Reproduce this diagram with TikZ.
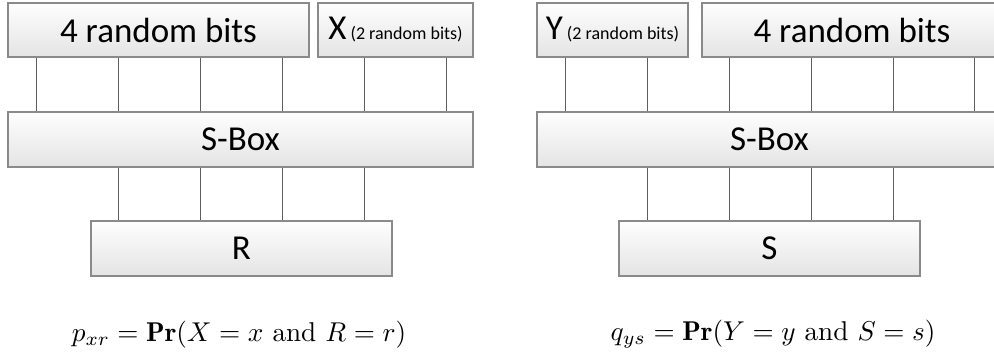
\documentclass[tikz,border=0pt]{standalone}
\usepackage{amsmath}
\usepackage{fontspec}
\newfontfamily\calibri{Carlito}
\definecolor{boxedge}{HTML}{8A8A8A}
\definecolor{boxtop}{HTML}{FEFEFE}
\definecolor{boxbot}{HTML}{E4E4E4}
\definecolor{wirecol}{HTML}{5E5E5E}
\tikzset{
  blk/.style={draw=boxedge, line width=1.3pt, top color=boxtop, bottom color=boxbot,
    inner sep=0pt, minimum height=54pt,
    font=\calibri\fontsize{35}{40}\selectfont},
  wire/.style={draw=wirecol, line width=1pt},
  formula/.style={scale=2.72, transform shape, inner sep=0pt}
}
\newcommand\twobits{{\fontsize{18}{20}\selectfont\ (2 random bits)}}
\begin{document}
\begin{tikzpicture}[x=1pt, y=-1pt]
  \useasboundingbox (0,0) rectangle (994,359);
  \clip (0,0) rectangle (994,359);

  % left cipher stage
  \node[blk, minimum width=301pt] (rbL) at (158.5,30) {4 random bits};
  \node[blk, minimum width=155pt] (xL)  at (395.5,30) {X\twobits};
  \node[blk, minimum width=465pt, minimum height=55pt] (sbL) at (240.5,139.5) {S-Box};
  \node[blk, minimum width=301pt, minimum height=55pt] (rL)  at (241.5,248.5) {R};

  \foreach \wx in {36,118,200,282}
    \draw[wire] (rbL.south -| \wx,0) -- (sbL.north -| \wx,0);
  \foreach \wx in {364,446}
    \draw[wire] (xL.south -| \wx,0) -- (sbL.north -| \wx,0);
  \foreach \wx in {118,200,282,364}
    \draw[wire] (sbL.south -| \wx,0) -- (rL.north -| \wx,0);

  \node[formula] (pL) at (239,334.5) {$p_{xr} = \mathbf{Pr}(X = x \text{ and } R = r)$};

  % right cipher stage
  \node[blk, minimum width=151pt] (yR)  at (612.5,30) {Y\twobits};
  \node[blk, minimum width=300pt] (rbR) at (852,30) {4 random bits};
  \node[blk, minimum width=465pt, minimum height=55pt] (sbR) at (769.5,139.5) {S-Box};
  \node[blk, minimum width=301pt, minimum height=55pt] (sR)  at (769.5,248.5) {S};

  \foreach \wx in {565,647}
    \draw[wire] (yR.south -| \wx,0) -- (sbR.north -| \wx,0);
  \foreach \wx in {729,811,893,974}
    \draw[wire] (rbR.south -| \wx,0) -- (sbR.north -| \wx,0);
  \foreach \wx in {647,729,811,893}
    \draw[wire] (sbR.south -| \wx,0) -- (sR.north -| \wx,0);

  \node[formula] (qR) at (773,334.5) {$q_{ys} = \mathbf{Pr}(Y = y \text{ and } S = s)$};
\end{tikzpicture}
\end{document}
